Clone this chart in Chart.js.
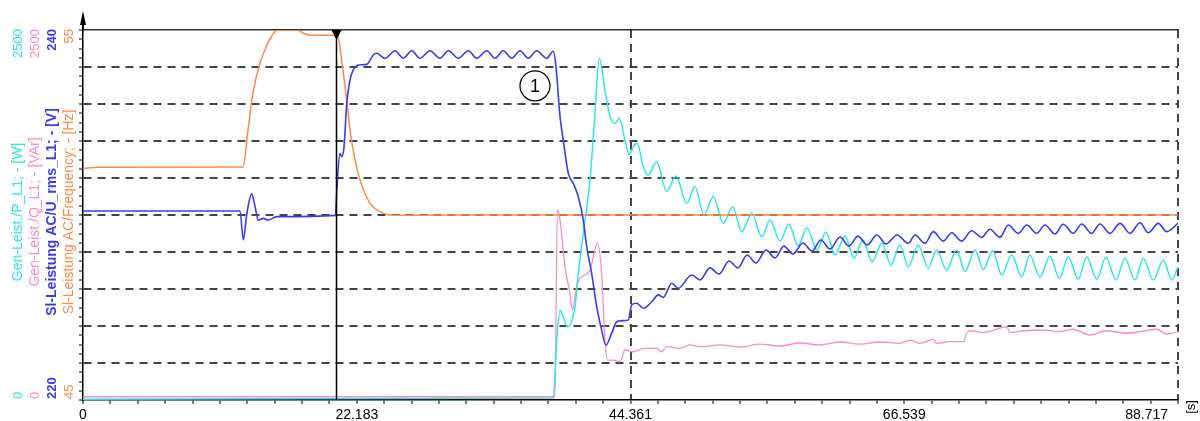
<!DOCTYPE html>
<html>
<head>
<meta charset="utf-8">
<script src="https://cdn.jsdelivr.net/npm/chart.js@4.4.0/dist/chart.umd.min.js"></script>
<style>
  html, body { margin: 0; padding: 0; background: #fff; }
  #wrap { width: 1200px; height: 421px; }
</style>
</head>
<body>
<div id="wrap"><canvas id="grafico" width="1200" height="421"></canvas></div>
<script>
// eje de tiempo [s]
const xTickLabels = ["0", "22.183", "44.361", "66.539", "88.717"];
const xMax = 88.717;
const cursorT = 20.5;
const markerT = 36.62, markerF = 53.49;

// Sl-Leistung AC/Frequency [Hz]
const freqT = [0, 1.2, 12.96, 13.37, 13.77, 14.34, 14.91, 15.31, 15.80, 17.34, 17.82, 18.39, 20.17, 20.66, 20.98, 21.39, 21.63, 22.04, 22.44, 23.25, 24.31, 25.12, 30, 40, 50, 60, 70, 80, 88.717];
const freqV = [51.26, 51.29, 51.3, 52.3, 53.3, 54.11, 54.59, 54.85, 55.0, 55.0, 54.92, 54.86, 54.86, 54.81, 54.11, 53.03, 52.3, 51.49, 50.95, 50.32, 50.05, 49.99, 50.0, 50.0, 50.0, 50.0, 50.0, 50.0, 50.0];

// Sl-Leistung AC/U_rms_L1 [V]
const voltT = [0, 12.72, 12.99, 13.26, 13.67, 13.94, 14.20, 14.61, 15.01, 15.69, 20.45, 20.55, 20.82, 20.96, 21.15, 21.37, 21.63, 21.90, 22.31, 22.99, 23.52, 23.80, 24.47,
  25.28, 25.95, 26.63, 27.30, 28.11, 28.92, 29.60, 30.41, 31.22, 31.90, 32.71, 33.38, 34.05, 34.73, 35.41, 36.08, 36.76, 37.57, 38.10,
  38.32, 38.65, 38.91, 39.32, 39.72, 40.13, 40.53, 40.81, 41.21, 41.62, 42.02, 42.37, 42.83, 43.24, 43.77, 44.18, 44.45, 44.86, 45.40, 46.08, 46.61, 47.02, 47.70, 48.23, 49.31, 49.99,
  50.80, 51.53, 52.34, 53.07, 53.80, 54.53, 55.34, 56.07, 56.79, 57.52, 58.33, 59.06, 59.79, 60.52, 61.33, 62.06, 62.79, 63.52, 64.33, 65.06, 65.95,
  66.87, 67.41, 68.22, 68.89, 69.70, 70.38, 71.19, 72.00, 72.81, 73.48, 74.29, 74.97, 75.78, 76.46, 77.27, 77.94, 78.75, 79.42, 80.23, 80.91, 81.72, 82.40, 83.21, 84.02, 84.83, 85.64, 86.31, 87.12, 87.80, 88.717];
const voltV = [230.22, 230.22, 228.65, 230.0, 231.14, 230.45, 229.73, 229.82, 229.73, 229.91, 229.98, 231.17, 233.34, 233.15, 233.7, 236.04, 237.3, 237.84, 238.11, 238.14, 238.65, 238.74, 238.47,
  238.88, 238.47, 238.88, 238.47, 238.88, 238.47, 238.88, 238.47, 238.88, 238.47, 238.88, 238.47, 238.88, 238.47, 238.88, 238.47, 238.88, 238.47, 238.85,
  238.02, 235.31, 234.05, 232.25, 231.71, 230.99, 229.73, 228.29, 226.85, 225.04, 223.78, 222.97, 223.6, 224.23, 224.29, 224.32, 225.14, 225.23, 224.96, 225.31, 225.68, 225.55, 226.31, 226.04, 226.76, 226.49,
  227.14, 226.81, 227.51, 227.14, 227.84, 227.41, 228.11, 227.68, 228.32, 227.89, 228.49, 228.05, 228.65, 228.16, 228.81, 228.32, 228.86, 228.38, 228.92, 228.43, 228.92,
  228.47, 228.92, 228.47, 229.10, 228.59, 229.04, 228.59, 229.15, 228.79, 229.23, 228.79, 229.46, 229.01, 229.46, 229.01, 229.46, 228.97, 229.50, 229.01, 229.51, 229.01, 229.51, 229.01, 229.55, 229.01, 229.58, 229.04, 229.55, 229.10, 229.55];

// Gen-Leist./P_L1 [W]
const pT = [0, 38.10, 38.38, 38.65, 38.91, 39.24, 39.86, 40.13, 40.53, 41.08, 41.48, 41.83, 42.29, 42.70, 43.10, 43.45, 43.91, 44.26, 44.58, 44.91, 45.39, 45.80,
  46.48, 47.29, 48.04, 48.91, 49.58, 50.31, 51.07, 51.88, 52.64, 53.37, 54.18, 54.99, 55.66, 56.47, 57.20, 57.93, 58.66, 59.47, 60.20, 60.93, 61.74, 62.47, 63.19, 63.92, 64.73, 65.46, 66.19,
  66.87, 67.67, 68.48, 69.16, 69.97, 70.78, 71.46, 72.27, 72.94, 73.70, 74.43, 75.24, 76.05, 76.72, 77.53, 78.34, 79.10, 79.83, 80.64, 81.32, 82.13, 82.88, 83.69, 84.42, 85.23, 85.90, 86.71, 87.53, 88.21, 88.717];
const pV = [5, 14, 405, 608, 563, 495, 630, 856, 1126, 1487, 1937, 2309, 2095, 1914, 1870, 1903, 1757, 1655, 1712, 1735, 1576, 1520,
  1610, 1408, 1514, 1329, 1441, 1250, 1374, 1194, 1306, 1137, 1262, 1103, 1216, 1074, 1189, 1041, 1162, 1014, 1135, 980, 1108, 959, 1081, 932, 1061, 912, 1047,
  901, 1047, 890, 1014, 878, 1014, 867, 1014, 883, 1009, 845, 980, 833, 980, 829, 973, 822, 968, 816, 968, 816, 964, 811, 957, 811, 957, 811, 946, 811, 900];

// Gen-Leist./Q_L1 [VAr]
const qT = [0, 38.10, 38.24, 38.43, 38.65, 39.05, 39.46, 39.66, 39.99, 40.26, 41.08, 41.68, 42.02, 42.29, 42.50, 42.96, 43.51, 43.91, 44.58, 45.40, 46.48, 46.88, 47.29, 48.37, 49.18, 49.99,
  51.61, 53.23, 54.85, 56.47, 58.09, 59.71, 61.33, 62.95, 64.57, 66.19, 66.99, 67.80, 68.89, 69.16, 70.24, 71.32, 71.59, 71.86, 72.94, 74.03, 74.84, 75.10, 76.18, 77.80, 79.15, 80.23, 81.58, 82.94, 84.56, 85.64, 86.99, 87.80, 88.717];
const qV = [22, 22, 22, 1284, 1216, 901, 721, 608, 766, 822, 878, 1061, 856, 405, 270, 270, 259, 338, 326, 349, 349, 326, 360, 349, 372, 360,
  372, 358, 378, 365, 385, 372, 392, 378, 392, 383, 405, 383, 410, 383, 394, 394, 451, 468, 455, 478, 495, 455, 468, 473, 462, 478, 439, 468, 451, 462, 478, 446, 462];

const colP = "#2fe6e8";
const colQ = "#ff8ac6";
const colU = "#3b3bf0";
const colF = "#ff8a4c";
const colGrid = "#444";
const fuente = "'Liberation Sans', Arial, sans-serif";

const ejes = [
  { id: "yP", color: colP, x: 18, title: "Gen-Leist./P_L1; - [W]", bold: false },
  { id: "yQ", color: colQ, x: 35, title: "Gen-Leist./Q_L1; - [VAr]", bold: false },
  { id: "yU", color: colU, x: 52, title: "Sl-Leistung AC/U_rms_L1; - [V]", bold: true },
  { id: "yF", color: colF, x: 69, title: "Sl-Leistung AC/Frequency; - [Hz]", bold: false }
];

const puntos = (ts, vs) => ts.map((t, i) => ({ x: t, y: vs[i] }));
const transparente = "rgba(0,0,0,0)";

const extras = {
  id: "extras",
  afterDatasetsDraw(chart) {
    const { ctx, chartArea: a, scales } = chart;
    const cx = Math.round(scales.x.getPixelForValue(cursorT)) + 0.5;
    ctx.save();
    ctx.strokeStyle = "#000";
    ctx.lineWidth = 1.5;
    ctx.beginPath();
    ctx.moveTo(cx, a.top);
    ctx.lineTo(cx, a.bottom);
    ctx.stroke();
    ctx.fillStyle = "#000";
    ctx.beginPath();
    ctx.moveTo(cx - 5, a.top);
    ctx.lineTo(cx + 5, a.top);
    ctx.lineTo(cx, a.top + 10);
    ctx.closePath();
    ctx.fill();

    const mx = scales.x.getPixelForValue(markerT);
    const my = scales.yF.getPixelForValue(markerF);
    ctx.lineWidth = 1.2;
    ctx.beginPath();
    ctx.arc(mx, my, 15, 0, 2 * Math.PI);
    ctx.stroke();
    ctx.font = "18px " + fuente;
    ctx.textAlign = "center";
    ctx.textBaseline = "middle";
    ctx.fillText("1", mx, my + 1);
    ctx.restore();
  },
  afterDraw(chart) {
    const { ctx, chartArea: a, scales } = chart;
    ctx.save();

    // flecha del eje
    ctx.fillStyle = "#000";
    ctx.strokeStyle = "#000";
    ctx.lineWidth = 2;
    ctx.beginPath();
    ctx.moveTo(a.left, a.top);
    ctx.lineTo(a.left, 22);
    ctx.stroke();
    ctx.beginPath();
    ctx.moveTo(a.left, 11);
    ctx.lineTo(a.left - 3, 25);
    ctx.lineTo(a.left + 3, 25);
    ctx.closePath();
    ctx.fill();

    // etiquetas del eje x
    ctx.font = "14px " + fuente;
    ctx.textBaseline = "alphabetic";
    xTickLabels.forEach((lab, i) => {
      const px = scales.x.getPixelForValue(Number(lab));
      if (i === xTickLabels.length - 1) {
        ctx.textAlign = "right";
        ctx.fillText(lab, px - 10, a.bottom + 19);
      } else {
        ctx.textAlign = "center";
        ctx.fillText(lab, px, a.bottom + 19);
      }
    });
    ctx.save();
    ctx.translate(1191, 407);
    ctx.rotate(-Math.PI / 2);
    ctx.textAlign = "center";
    ctx.textBaseline = "middle";
    ctx.font = "13px " + fuente;
    ctx.fillText("[s]", 0, 0);
    ctx.restore();

    // etiquetas rotadas de los ejes y
    ejes.forEach(e => {
      const s = scales[e.id];
      const peso = e.bold ? "bold " : "";
      ctx.save();
      ctx.fillStyle = e.color;
      ctx.textBaseline = "middle";
      ctx.font = peso + "13px " + fuente;
      ctx.save();
      ctx.translate(e.x, s.getPixelForValue(s.max) - 1);
      ctx.rotate(-Math.PI / 2);
      ctx.textAlign = "right";
      ctx.fillText(String(s.max), 0, 0);
      ctx.restore();
      ctx.save();
      ctx.translate(e.x, s.getPixelForValue(s.min) - 1);
      ctx.rotate(-Math.PI / 2);
      ctx.textAlign = "left";
      ctx.fillText(String(s.min), 0, 0);
      ctx.restore();
      ctx.font = peso + "14px " + fuente;
      ctx.translate(e.x, 212);
      ctx.rotate(-Math.PI / 2);
      ctx.textAlign = "center";
      ctx.fillText(e.title, 0, 0);
      ctx.restore();
    });
    ctx.restore();
  }
};

const linea = (label, ts, vs, color, eje, ancho) => ({
  label,
  data: puntos(ts, vs),
  borderColor: color,
  borderWidth: ancho,
  pointRadius: 0,
  fill: false,
  yAxisID: eje,
  cubicInterpolationMode: "monotone"
});

const ctx = document.getElementById("grafico").getContext("2d");
const chart = new Chart(ctx, {
  type: "line",
  data: {
    datasets: [
      linea("Sl-Leistung AC/U_rms_L1", voltT, voltV, colU, "yU", 1.6),
      linea("Sl-Leistung AC/Frequency", freqT, freqV, colF, "yF", 1.5),
      linea("Gen-Leist./P_L1", pT, pV, colP, "yP", 1.5),
      linea("Gen-Leist./Q_L1", qT, qV, colQ, "yQ", 1.3)
    ]
  },
  options: {
    responsive: false,
    animation: false,
    layout: { padding: { left: 79, right: 22, top: 30, bottom: 17 } },
    plugins: { legend: { display: false }, tooltip: { enabled: false } },
    scales: {
      x: {
        type: "linear",
        position: "bottom",
        min: 0,
        max: xMax,
        afterBuildTicks: s => {
          s.ticks = Array.from({ length: 41 }, (_, k) => ({ value: k * xMax / 40 }));
        },
        ticks: { display: false },
        grid: {
          color: c => (c.index > 0 && c.index % 20 === 0) ? colGrid : transparente,
          lineWidth: 2,
          tickColor: "#000",
          tickLength: 4,
          tickWidth: 1
        },
        border: { display: true, color: "#000", width: 1.5, dash: [8, 6] }
      },
      x2: {
        type: "linear",
        position: "top",
        min: 0,
        max: xMax,
        display: true,
        ticks: { display: false },
        grid: { drawOnChartArea: false, drawTicks: false },
        border: { display: true, color: "#333", width: 1.5 }
      },
      yF: {
        type: "linear",
        position: "left",
        min: 45,
        max: 55,
        ticks: { display: false, stepSize: 0.25 },
        grid: {
          color: c => {
            const v = c.tick.value;
            return (Number.isInteger(v) && v > 45 && v < 55) ? colGrid : transparente;
          },
          lineWidth: 2,
          tickColor: "#000",
          tickLength: 4,
          tickWidth: 1
        },
        border: { display: true, color: "#000", width: 1.5, dash: [8, 6] }
      },
      yU: { type: "linear", display: false, min: 220, max: 240 },
      yP: { type: "linear", display: false, min: 0, max: 2500 },
      yQ: { type: "linear", display: false, min: 0, max: 2500 }
    }
  },
  plugins: [extras]
});
</script>
</body>
</html>
